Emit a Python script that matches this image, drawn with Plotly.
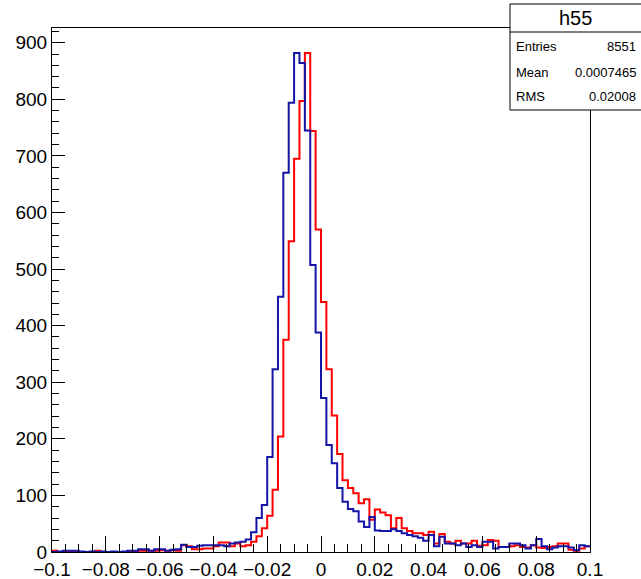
import numpy as np
import plotly.graph_objects as go

# 100 bins from -0.1 to 0.1
x_min, x_max, n_bins = -0.1, 0.1, 100

# bin contents
red_counts = [
    2, 0, 0, 0, 0, 0, 0, 0, 2, 0,
    0, 0, 0, 0, 1, 0, 2, 2, 2, 2,
    3, 2, 3, 2, 12, 10, 5, 5, 6, 6,
    10, 17, 17, 10, 15, 10, 12, 18, 28, 42,
    64, 110, 204, 375, 549, 695, 797, 882, 744, 570,
    442, 323, 241, 173, 127, 113, 104, 86, 93, 57,
    75, 70, 65, 42, 60, 42, 37, 33, 33, 30,
    36, 15, 32, 18, 15, 20, 15, 15, 20, 11,
    12, 21, 20, 9, 9, 10, 12, 9, 8, 12,
    8, 7, 9, 10, 15, 15, 4, 2, 6, 10,
]
blue_counts = [
    0, 1, 2, 2, 2, 1, 0, 1, 0, 1,
    0, 1, 0, 1, 2, 2, 5, 5, 2, 5,
    5, 2, 4, 5, 13, 9, 9, 11, 12, 12,
    12, 12, 10, 15, 17, 18, 22, 35, 60, 83,
    168, 323, 451, 670, 794, 882, 864, 745, 507, 388,
    272, 189, 157, 113, 89, 76, 72, 54, 44, 62,
    38, 37, 37, 40, 37, 33, 30, 28, 25, 20,
    30, 10, 27, 15, 15, 12, 15, 9, 12, 9,
    18, 18, 6, 9, 9, 15, 15, 12, 6, 12,
    23, 10, 5, 8, 10, 10, 8, 3, 12, 10,
]

stats_name = "h55"
stats_rows = [("Entries", "8551"), ("Mean", "0.0007465"), ("RMS", "0.02008")]

edges = np.linspace(x_min, x_max, n_bins + 1)

W, H = 641, 579
L, R, T, B = 52, 51, 28, 27
pw, ph = W - L - R, H - T - B


# pixel -> paper coords
def px(x):
    return (x - L) / pw


def py(y):
    return (H - B - y) / ph


fig = go.Figure()
for counts, color in [(red_counts, "#ff0000"), (blue_counts, "#1414a8")]:
    fig.add_trace(go.Scatter(x=edges, y=list(counts) + [counts[-1]],
                             mode="lines", line_shape="hv",
                             line=dict(color=color, width=2),
                             showlegend=False, hoverinfo="skip"))

font = dict(family="Liberation Sans, Arial, sans-serif", color="black")
fig.update_xaxes(range=[x_min, x_max], dtick=0.02, tick0=0, ticks="inside",
                 ticklen=16, tickcolor="black", showline=True, linecolor="black",
                 linewidth=1, mirror=True, showgrid=False, zeroline=False,
                 automargin=False, tickfont=dict(size=19, **font),
                 minor=dict(dtick=0.005, ticks="inside", ticklen=8, tickcolor="black"))
fig.update_yaxes(range=[0, 926], dtick=100, ticks="inside", ticklen=13,
                 tickcolor="black", showline=True, linecolor="black", linewidth=1,
                 mirror=True, showgrid=False, zeroline=False,
                 automargin=False, tickfont=dict(size=19, **font),
                 minor=dict(dtick=20, ticks="inside", ticklen=7, tickcolor="black"))

# stats box
fig.add_shape(type="rect", xref="paper", yref="paper",
              x0=px(510), x1=px(645), y0=py(110), y1=py(4),
              line=dict(color="black", width=1), fillcolor="white", layer="above")
fig.add_shape(type="line", xref="paper", yref="paper",
              x0=px(510), x1=px(645), y0=py(32), y1=py(32),
              line=dict(color="black", width=1), layer="above")
fig.add_annotation(x=px(575), y=py(18), xref="paper", yref="paper",
                   text=stats_name, showarrow=False, xanchor="center",
                   yanchor="middle", font=dict(size=20, **font))
for k, (lab, val) in enumerate(stats_rows):
    yy = py(47 + 25 * k)
    fig.add_annotation(x=px(514), y=yy, xref="paper", yref="paper", text=lab,
                       showarrow=False, xanchor="left", yanchor="middle",
                       font=dict(size=13, **font))
    fig.add_annotation(x=px(638), y=yy, xref="paper", yref="paper", text=val,
                       showarrow=False, xanchor="right", yanchor="middle",
                       font=dict(size=13, **font))

fig.update_layout(width=W, height=H, margin=dict(l=L, r=R, t=T, b=B),
                  plot_bgcolor="white", paper_bgcolor="white")

# drop the default body margin so the figure fills the window
fig.write_html("out.html", config={"displayModeBar": False},
               post_script="document.body.style.margin='0';"
                           "document.body.style.overflow='hidden';")
